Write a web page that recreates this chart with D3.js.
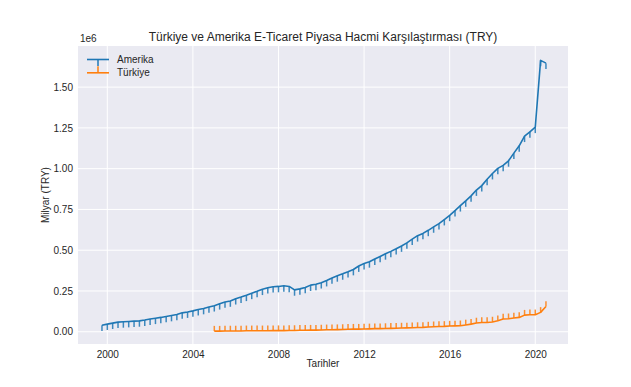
<!DOCTYPE html>
<html><head><meta charset="utf-8">
<script src="https://cdn.jsdelivr.net/npm/d3@7"></script>
<style>body{margin:0;background:#fff}svg{display:block}text{font-family:"Liberation Sans",Arial,sans-serif;fill:#262626}</style>
</head><body><svg id="c" width="631" height="387"></svg>
<script>
// quarterly data, values in units of 1e6 (TRY)
const amerikaBaslangic = 1999.75; // 1999 Q4
const amerika = [0.040,0.047,0.053,0.059,0.061,0.063,0.065,0.067,0.072,0.078,0.083,0.088,0.094,0.100,0.106,0.116,0.121,0.128,0.136,0.143,0.152,0.160,0.172,0.183,0.189,0.203,0.213,0.224,0.236,0.248,0.261,0.270,0.276,0.278,0.282,0.278,0.257,0.263,0.272,0.286,0.291,0.301,0.314,0.330,0.343,0.355,0.368,0.382,0.403,0.418,0.429,0.446,0.462,0.478,0.493,0.509,0.526,0.545,0.568,0.589,0.603,0.622,0.643,0.663,0.688,0.714,0.743,0.773,0.802,0.833,0.869,0.896,0.935,0.970,1.002,1.020,1.048,1.095,1.140,1.199,1.226,1.254,1.664,1.647];
const turkiyeBaslangic = 2005.0; // 2005 Q1
const turkiye = [0.004,0.004,0.005,0.005,0.005,0.005,0.006,0.006,0.006,0.006,0.006,0.007,0.007,0.007,0.008,0.008,0.009,0.009,0.010,0.010,0.011,0.012,0.012,0.013,0.014,0.015,0.016,0.016,0.017,0.018,0.019,0.019,0.020,0.021,0.022,0.023,0.024,0.025,0.026,0.027,0.029,0.031,0.032,0.033,0.035,0.036,0.037,0.042,0.047,0.054,0.057,0.057,0.060,0.068,0.078,0.080,0.084,0.088,0.102,0.104,0.104,0.119,0.155];
const amerikaHata = 0.036;  // lower error
const turkiyeHata = 0.032;  // upper error
const yTicks = [0,0.25,0.5,0.75,1.0,1.25,1.5];
const xTicks = [2000,2004,2008,2012,2016,2020];
const seriler = [
  {ad:"Amerika", renk:"#1f77b4", bas:amerikaBaslangic, v:amerika, hata:amerikaHata, yon:-1},
  {ad:"Türkiye", renk:"#ff7f0e", bas:turkiyeBaslangic, v:turkiye, hata:turkiyeHata, yon:1}
];

const svg = d3.select("#c");
const L=78, R=568, T=46, B=344;
const x = d3.scaleLinear().domain([1998.63, 2021.53]).range([L,R]);
const y = d3.scaleLinear().domain([-0.075, 1.752]).range([B,T]);

svg.append("rect").attr("x",L).attr("y",T).attr("width",R-L).attr("height",B-T).attr("fill","#EAEAF2");
const g = svg.append("g");
g.selectAll(".gx").data(xTicks).join("line").attr("x1",d=>x(d)).attr("x2",d=>x(d)).attr("y1",T).attr("y2",B).attr("stroke","#fff").attr("stroke-width",1);
g.selectAll(".gy").data(yTicks).join("line").attr("y1",d=>y(d)).attr("y2",d=>y(d)).attr("x1",L).attr("x2",R).attr("stroke","#fff").attr("stroke-width",1);

// axes
const xa = svg.append("g").attr("transform",`translate(0,${B})`).call(d3.axisBottom(x).tickValues(xTicks).tickFormat(d3.format("d")).tickSize(0).tickPadding(7));
const ya = svg.append("g").attr("transform",`translate(${L},0)`).call(d3.axisLeft(y).tickValues(yTicks).tickFormat(d3.format(".2f")).tickSize(0).tickPadding(5));
[xa,ya].forEach(a=>{a.select(".domain").remove();a.selectAll("text").attr("font-size",10).attr("fill","#262626").attr("font-family","Liberation Sans, Arial, sans-serif");});

seriler.forEach(s=>{
  const pts = s.v.map((v,i)=>({t:s.bas+0.25*i, v}));
  svg.append("g").selectAll("line").data(pts).join("line")
    .attr("x1",d=>x(d.t)).attr("x2",d=>x(d.t))
    .attr("y1",d=>y(d.v)).attr("y2",d=>y(d.v + s.yon*s.hata))
    .attr("stroke",s.renk).attr("stroke-width",1.5).attr("stroke-opacity",0.85);
  svg.append("path").datum(pts).attr("fill","none").attr("stroke",s.renk).attr("stroke-width",1.6)
    .attr("stroke-linejoin","round")
    .attr("d",d3.line().x(d=>x(d.t)).y(d=>y(d.v)));
});

// legend
seriler.forEach((s,i)=>{
  const ly = 59.5 + i*13.3;
  svg.append("line").attr("x1",87).attr("x2",109).attr("y1",ly).attr("y2",ly).attr("stroke",s.renk).attr("stroke-width",1.6);
  svg.append("line").attr("x1",98).attr("x2",98).attr("y1",ly).attr("y2",ly - s.yon*6.5).attr("stroke",s.renk).attr("stroke-width",1.5);
  svg.append("text").attr("x",117).attr("y",ly+3.5).attr("font-size",10).text(s.ad);
});

svg.append("text").attr("x",(L+R)/2).attr("y",41).attr("text-anchor","middle").attr("font-size",12).text("Türkiye ve Amerika E-Ticaret Piyasa Hacmi Karşılaştırması (TRY)");
svg.append("text").attr("x",L+2).attr("y",42).attr("font-size",10).text("1e6");
svg.append("text").attr("x",(L+R)/2).attr("y",367).attr("text-anchor","middle").attr("font-size",10).text("Tarihler");
svg.append("text").attr("transform",`translate(49,${(T+B)/2}) rotate(-90)`).attr("text-anchor","middle").attr("font-size",10).text("Milyar (TRY)");
</script></body></html>
